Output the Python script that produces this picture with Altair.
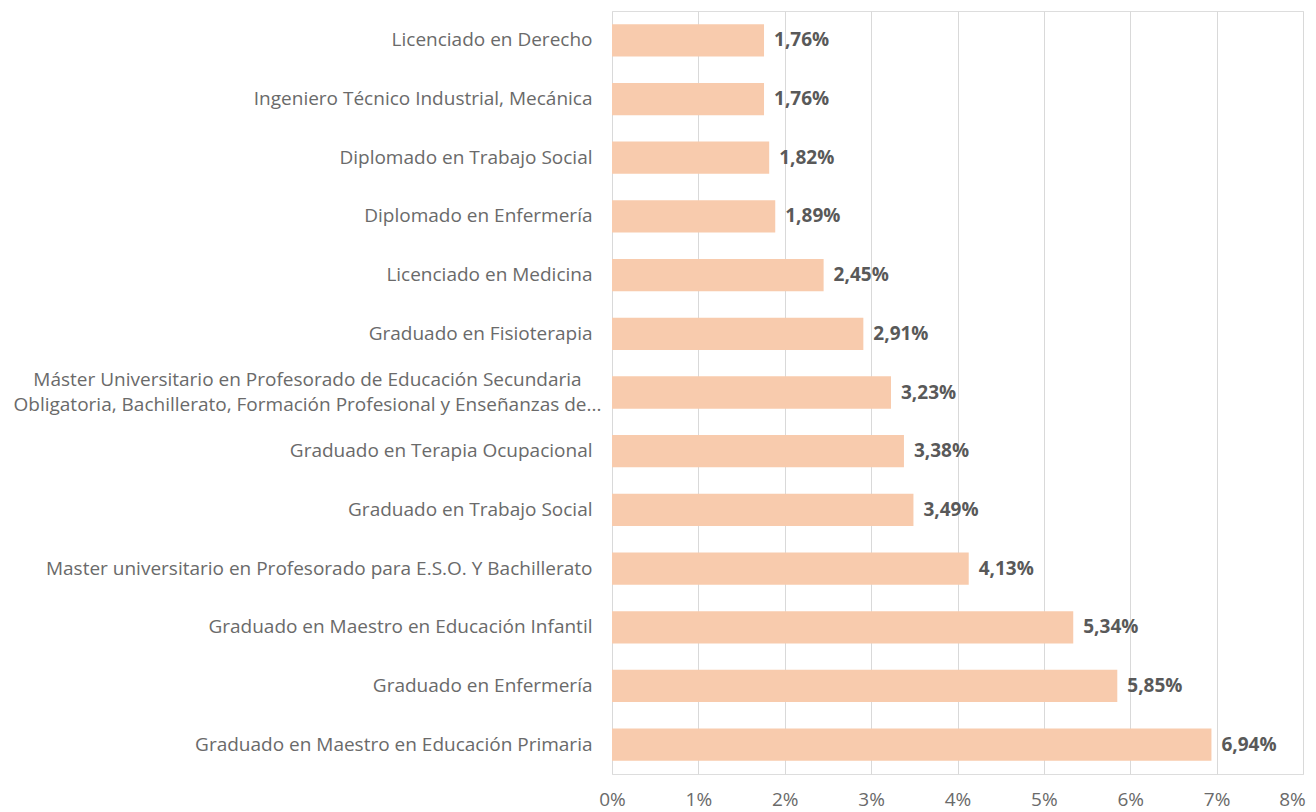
import altair as alt
import pandas as pd

categories = [
    "Licenciado en Derecho",
    "Ingeniero Técnico Industrial, Mecánica",
    "Diplomado en Trabajo Social",
    "Diplomado en Enfermería",
    "Licenciado en Medicina",
    "Graduado en Fisioterapia",
    "Máster Universitario en Profesorado de Educación Secundaria|Obligatoria, Bachillerato, Formación Profesional y Enseñanzas de...",
    "Graduado en Terapia Ocupacional",
    "Graduado en Trabajo Social",
    "Master universitario en Profesorado para E.S.O. Y Bachillerato",
    "Graduado en Maestro en Educación Infantil",
    "Graduado en Enfermería",
    "Graduado en Maestro en Educación Primaria",
]
values = [1.76, 1.76, 1.82, 1.89, 2.45, 2.91, 3.23, 3.38, 3.49, 4.13, 5.34, 5.85, 6.94]
tick_values = [0, 1, 2, 3, 4, 5, 6, 7, 8]

df = pd.DataFrame({"cat": categories, "val": values})
FONT = "Open Sans"
GREY = "#595959"
LIGHT = "#6a6a6a"
MULTI = "indexof(datum.label, '|') >= 0"

base = alt.Chart(df).encode(
    y=alt.Y("cat:N", sort=categories, title=None,
            scale=alt.Scale(paddingInner=0.45, paddingOuter=0.225),
            axis=alt.Axis(labelExpr="split(datum.label, '|')", labelFont=FONT,
                          labelFontSize=19, labelColor=LIGHT,
                          labelPadding=alt.condition(MULTI, alt.value(305), alt.value(20)),
                          labelAlign=alt.condition(MULTI, alt.value("center"), alt.value("right")),
                          labelOffset=alt.condition(MULTI, alt.value(-12.5), alt.value(0)),
                          ticks=False, domain=False, labelLimit=700, labelLineHeight=25)),
)

bars = base.mark_bar(color="#F8CBAD").encode(
    x=alt.X("val:Q", title=None, scale=alt.Scale(domain=[0, 8], nice=False),
            axis=alt.Axis(values=tick_values, labelExpr="datum.value + '%'",
                          labelFont=FONT, labelFontSize=19, labelColor=LIGHT,
                          labelFlush=False,
                          labelOffset=alt.condition("datum.value == 8",
                                                    alt.value(-11), alt.value(0)),
                          grid=True, gridColor="#D9D9D9", gridWidth=1,
                          domain=False, ticks=False, labelPadding=16)),
)

labels = base.transform_calculate(
    lab="replace(format(datum.val, '.2f'), '.', ',') + '%'"
).mark_text(align="left", baseline="middle", dx=10, font=FONT, fontSize=19,
            fontWeight="bold", color=GREY).encode(
    x="val:Q",
    text="lab:N",
)

chart = (bars + labels).properties(
    width=691, height=763,
    autosize=alt.AutoSizeParams(type="none"),
    padding={"left": 604, "top": 3, "right": 5, "bottom": 40},
).configure_view(stroke=None).configure(background="white")

chart.save("out.html", embed_options={"renderer": "svg", "actions": False})
